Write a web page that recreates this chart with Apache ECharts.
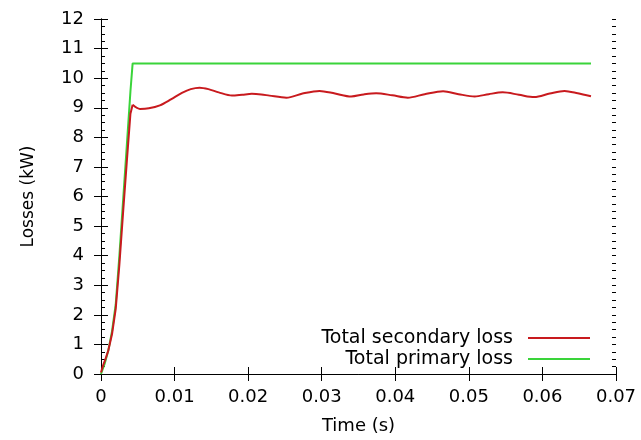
<!DOCTYPE html>
<html>
<head>
<meta charset="utf-8">
<script src="https://cdn.jsdelivr.net/npm/echarts@6/dist/echarts.min.js"></script>
<style>html,body{margin:0;padding:0;background:#fff;overflow:hidden;}#c{width:641px;height:440px;}</style>
</head>
<body>
<div id="c"></div>
<script>
// Time (s) and losses (kW)
const secondaryRiseTime = [0, 0.0003, 0.0006, 0.001, 0.0015, 0.002, 0.0025, 0.003, 0.0035, 0.004, 0.0043];
const secondaryRiseLoss = [0.05, 0.3, 0.5, 0.8, 1.35, 2.2, 3.7, 5.45, 7.15, 8.8, 9.1];
const secondaryTime = [0.0043, 0.0053, 0.0065, 0.008, 0.0095, 0.011, 0.0122, 0.0134, 0.0146, 0.016, 0.0178, 0.0192, 0.0205, 0.0218, 0.0229, 0.0252, 0.0274, 0.0297, 0.0318, 0.034, 0.0357, 0.0374, 0.0396, 0.0417, 0.044, 0.0465, 0.0486, 0.0508, 0.0527, 0.0546, 0.0568, 0.0589, 0.061, 0.063, 0.0648, 0.0666];
const secondaryLoss = [9.1, 8.96, 8.98, 9.08, 9.28, 9.5, 9.63, 9.68, 9.63, 9.52, 9.41, 9.44, 9.47, 9.45, 9.41, 9.34, 9.48, 9.57, 9.48, 9.38, 9.45, 9.49, 9.42, 9.34, 9.46, 9.56, 9.46, 9.38, 9.46, 9.52, 9.44, 9.36, 9.48, 9.57, 9.49, 9.39];
const primaryTime = [0, 0.0005, 0.001, 0.0015, 0.002, 0.0025, 0.003, 0.0035, 0.004, 0.0043, 0.0666];
const primaryLoss = [0, 0.35, 0.8, 1.45, 2.35, 4.0, 5.85, 7.7, 9.55, 10.5, 10.5];
const seriesNames = ['Total secondary loss', 'Total primary loss'];
const xTicks = [0, 0.01, 0.02, 0.03, 0.04, 0.05, 0.06, 0.07];
const yTicks = [0, 1, 2, 3, 4, 5, 6, 7, 8, 9, 10, 11, 12];

const FONT = 'DejaVu Sans';
const RED = '#c81a1e', GREEN = '#3ad43a';
const pair = (xs, ys) => xs.map((x, i) => [x, ys[i]]);
const chart = echarts.init(document.getElementById('c'), null, {renderer: 'canvas', width: 641, height: 440});
const axisLine = {show: true, lineStyle: {color: '#000', width: 1}};
const noLine = {show: false};
const xFmt = v => (Math.abs(v) < 1e-9 ? '0' : v.toFixed(2));
const xMin = xTicks[0], xMax = xTicks[xTicks.length - 1];
const yMin = yTicks[0], yMax = yTicks[yTicks.length - 1];
const tick = len => ({show: true, inside: true, length: len, lineStyle: {color: '#000', width: 1}});

const legendItem = (name, top) => ({
  data: [name], orient: 'vertical', align: 'right', right: 51, top: top, padding: 0,
  icon: 'rect', itemWidth: 62, itemHeight: 2,
  textStyle: {fontFamily: FONT, fontSize: 19, color: '#000', lineHeight: 20, padding: [0, 10, 0, 0]}
});

chart.setOption({
  animation: false,
  backgroundColor: '#fff',
  textStyle: {fontFamily: FONT},
  grid: {left: 101, width: 515, top: 19, height: 357, containLabel: false},
  legend: [legendItem(seriesNames[0], 328), legendItem(seriesNames[1], 349)],
  xAxis: [
    {type: 'value', min: xMin, max: xMax, interval: 0.01,
     name: 'Time (s)', nameLocation: 'middle', nameGap: 43,
     nameTextStyle: {fontFamily: FONT, fontSize: 18, color: '#000'},
     axisLine: axisLine, axisTick: tick(7),
     axisLabel: {formatter: xFmt, fontFamily: FONT, fontSize: 18, color: '#000', margin: 14},
     splitLine: {show: false}},
    {type: 'value', position: 'top', min: xMin, max: xMax, interval: 0.01,
     axisLine: axisLine, axisTick: tick(7),
     axisLabel: {show: false}, splitLine: {show: false}}
  ],
  yAxis: [
    {type: 'value', min: yMin, max: yMax, interval: 1,
     name: 'Losses (kW)', nameLocation: 'middle', nameGap: 64,
     nameTextStyle: {fontFamily: FONT, fontSize: 17, color: '#000'},
     axisLine: axisLine, axisTick: tick(7),
     axisLabel: {fontFamily: FONT, fontSize: 18, color: '#000', margin: 17},
     splitLine: {show: false}},
    {type: 'value', position: 'right', min: yMin, max: yMax, interval: 1,
     axisLine: axisLine, axisTick: tick(7),
     axisLabel: {show: false}, splitLine: {show: false}},
    {type: 'value', position: 'left', min: yMin, max: yMax, interval: 0.25,
     axisLine: noLine, axisTick: tick(4),
     axisLabel: {show: false}, splitLine: {show: false}},
    {type: 'value', position: 'right', min: yMin, max: yMax, interval: 0.25,
     axisLine: noLine, axisTick: tick(4),
     axisLabel: {show: false}, splitLine: {show: false}}
  ],
  series: [
    {name: seriesNames[0], type: 'line', data: pair(secondaryRiseTime, secondaryRiseLoss), showSymbol: false,
     lineStyle: {color: RED, width: 2}, itemStyle: {color: RED}, z: 3},
    {name: seriesNames[0], type: 'line', data: pair(secondaryTime, secondaryLoss), showSymbol: false,
     smooth: 0.3, lineStyle: {color: RED, width: 2}, itemStyle: {color: RED}, z: 3},
    {name: seriesNames[1], type: 'line', data: pair(primaryTime, primaryLoss), showSymbol: false,
     lineStyle: {color: GREEN, width: 2}, itemStyle: {color: GREEN}, z: 2}
  ]
});
</script>
</body>
</html>
